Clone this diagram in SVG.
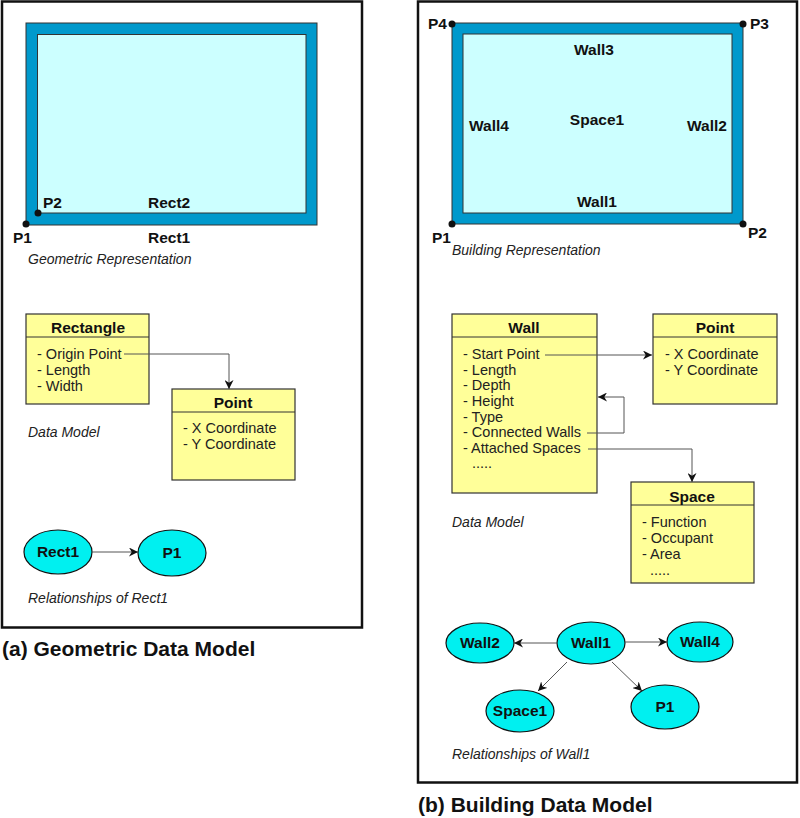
<svg xmlns="http://www.w3.org/2000/svg" width="800" height="818" viewBox="0 0 800 818">
<style>
.frame{fill:#fff;stroke:#111;stroke-width:2.5}
.wall{fill:#0099cc;stroke:#333;stroke-width:1}
.space{fill:#ccffff;stroke:#333;stroke-width:1}
.box{fill:#ffff99;stroke:#333;stroke-width:1.2}
.sep{stroke:#333;stroke-width:1}
.ell{fill:#00f0f0;stroke:#111;stroke-width:1.2}
.lbl{font-family:"Liberation Sans",Arial,sans-serif;font-weight:bold;font-size:15.5px;fill:#111}
.hdr{font-family:"Liberation Sans",Arial,sans-serif;font-weight:bold;font-size:15.5px;fill:#111;text-anchor:middle}
.item{font-family:"Liberation Sans",Arial,sans-serif;font-size:14.5px;fill:#222}
.cap{font-family:"Liberation Sans",Arial,sans-serif;font-style:italic;font-size:14px;fill:#222}
.title{font-family:"Liberation Sans",Arial,sans-serif;font-weight:bold;font-size:21px;fill:#111}
.conn{fill:none;stroke:#555;stroke-width:1}
.mid{text-anchor:middle}
</style>
<defs>
<marker id="arr" viewBox="0 0 10 10" refX="10" refY="5" markerWidth="9" markerHeight="9" markerUnits="userSpaceOnUse" orient="auto">
<path d="M0,0 L10,5 L0,10 L3,5 Z" fill="#111"/>
</marker>
</defs>

<!-- Left panel -->
<rect class="frame" x="2" y="1.5" width="360" height="626"/>
<g id="rect1-geom">
<rect class="wall" x="26" y="23" width="291" height="202"/>
<rect class="space" x="37.5" y="34.5" width="268.5" height="178.5"/>
<circle cx="26" cy="224" r="3.5" fill="#111"/>
<circle cx="38" cy="213" r="3.5" fill="#111"/>
<text class="lbl" x="43" y="208">P2</text>
<text class="lbl" x="148" y="208">Rect2</text>
<text class="lbl" x="13" y="243">P1</text>
<text class="lbl" x="148" y="243">Rect1</text>
<text class="cap" x="28" y="264">Geometric Representation</text>
</g>

<g id="rectangle-class">
<rect class="box" x="26" y="314" width="123" height="90"/>
<line class="sep" x1="26" y1="337" x2="149" y2="337"/>
<text class="hdr" x="88" y="333">Rectangle</text>
<text class="item" x="37" y="359">- Origin Point</text>
<text class="item" x="37" y="375">- Length</text>
<text class="item" x="37" y="391">- Width</text>
</g>
<g id="point-class-a">
<rect class="box" x="172" y="389" width="123" height="91"/>
<line class="sep" x1="172" y1="412" x2="295" y2="412"/>
<text class="hdr" x="233" y="408">Point</text>
<text class="item" x="183" y="433">- X Coordinate</text>
<text class="item" x="183" y="449">- Y Coordinate</text>
</g>
<text class="cap" x="28" y="437">Data Model</text>

<g id="ell-rect1">
<ellipse class="ell" cx="58" cy="552" rx="34" ry="22"/>
<text class="lbl mid" x="58" y="557">Rect1</text>
</g>
<g id="ell-p1a">
<ellipse class="ell" cx="172" cy="553" rx="34" ry="23"/>
<text class="lbl mid" x="172" y="558">P1</text>
</g>
<text class="cap" x="28" y="603">Relationships of Rect1</text>
<text class="title" x="2" y="656">(a) Geometric Data Model</text>

<!-- Right panel -->
<rect class="frame" x="418" y="1.5" width="379" height="781"/>
<g id="building-geom">
<rect class="wall" x="452" y="23" width="291" height="201"/>
<rect class="space" x="463" y="34" width="269" height="179"/>
<circle cx="452" cy="24" r="3.5" fill="#111"/>
<circle cx="743" cy="24" r="3.5" fill="#111"/>
<circle cx="452" cy="224" r="3.5" fill="#111"/>
<circle cx="743" cy="224" r="3.5" fill="#111"/>
<text class="lbl" x="428" y="29">P4</text>
<text class="lbl" x="750" y="29">P3</text>
<text class="lbl" x="432" y="243">P1</text>
<text class="lbl" x="748" y="238">P2</text>
<text class="lbl mid" x="594" y="55">Wall3</text>
<text class="lbl mid" x="597" y="125">Space1</text>
<text class="lbl" x="469" y="131">Wall4</text>
<text class="lbl" x="687" y="131">Wall2</text>
<text class="lbl mid" x="597" y="207">Wall1</text>
<text class="cap" x="452" y="255">Building Representation</text>
</g>

<g id="wall-class">
<rect class="box" x="452" y="314" width="145" height="179"/>
<line class="sep" x1="452" y1="337" x2="597" y2="337"/>
<text class="hdr" x="524" y="333">Wall</text>
<text class="item" x="463" y="359">- Start Point</text>
<text class="item" x="463" y="375">- Length</text>
<text class="item" x="463" y="390">- Depth</text>
<text class="item" x="463" y="406">- Height</text>
<text class="item" x="463" y="422">- Type</text>
<text class="item" x="463" y="437">- Connected Walls</text>
<text class="item" x="463" y="453">- Attached Spaces</text>
<text class="item" x="472" y="468">.....</text>
</g>
<g id="point-class-b">
<rect class="box" x="653" y="314" width="124" height="90"/>
<line class="sep" x1="653" y1="337" x2="777" y2="337"/>
<text class="hdr" x="715" y="333">Point</text>
<text class="item" x="665" y="359">- X Coordinate</text>
<text class="item" x="665" y="375">- Y Coordinate</text>
</g>
<g id="space-class">
<rect class="box" x="631" y="482" width="123" height="101"/>
<line class="sep" x1="631" y1="505" x2="754" y2="505"/>
<text class="hdr" x="692" y="502">Space</text>
<text class="item" x="642" y="527">- Function</text>
<text class="item" x="642" y="543">- Occupant</text>
<text class="item" x="642" y="559">- Area</text>
<text class="item" x="650" y="575">.....</text>
</g>
<text class="cap" x="452" y="527">Data Model</text>

<g id="ell-wall1">
<ellipse class="ell" cx="591" cy="643" rx="34" ry="21"/>
<text class="lbl mid" x="591" y="648">Wall1</text>
</g>
<g id="ell-wall2">
<ellipse class="ell" cx="480" cy="643" rx="34" ry="20"/>
<text class="lbl mid" x="480" y="648">Wall2</text>
</g>
<g id="ell-wall4">
<ellipse class="ell" cx="700" cy="642" rx="33" ry="20"/>
<text class="lbl mid" x="700" y="647">Wall4</text>
</g>
<g id="ell-space1">
<ellipse class="ell" cx="520" cy="711" rx="34" ry="21"/>
<text class="lbl mid" x="520" y="716">Space1</text>
</g>
<g id="ell-p1b">
<ellipse class="ell" cx="665" cy="707" rx="34" ry="22"/>
<text class="lbl mid" x="665" y="712">P1</text>
</g>
<text class="cap" x="452" y="759">Relationships of Wall1</text>
<text class="title" x="418" y="812">(b) Building Data Model</text>

<g id="connectors">
<path class="conn" d="M124,354 H229 V389" marker-end="url(#arr)"/>
<path class="conn" d="M92,552 H138" marker-end="url(#arr)"/>
<path class="conn" d="M545,355 H652" marker-end="url(#arr)"/>
<path class="conn" d="M587,433 H624 V397 H598" marker-end="url(#arr)"/>
<path class="conn" d="M588,449 H692 V482" marker-end="url(#arr)"/>
<path class="conn" d="M557,643 H514" marker-end="url(#arr)"/>
<path class="conn" d="M625,642 H667" marker-end="url(#arr)"/>
<path class="conn" d="M567,662 L538,691" marker-end="url(#arr)"/>
<path class="conn" d="M612,662 L642,691" marker-end="url(#arr)"/>
</g>
</svg>
